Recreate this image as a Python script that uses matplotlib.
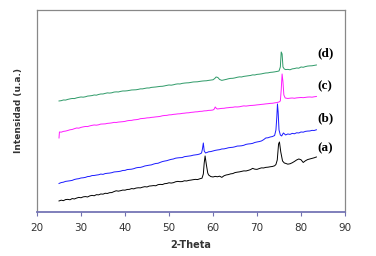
import matplotlib.pyplot as plt

# (2-theta, intensity), one list per pattern
a_pts = [(25, 11), (25.5, 11.8), (26, 11.3), (26.5, 12.4), (27, 12.6), (27.5, 12.2), (28, 13.4),
         (28.5, 13), (29, 13.9), (29.5, 14.6), (30, 14.2), (30.5, 15.1), (31, 15.4), (31.5, 15),
         (32, 16.1), (32.5, 16.6), (33, 16.2), (33.5, 17.3), (34, 17.1), (34.5, 18), (35, 17.8),
         (35.5, 18.7), (36, 18.5), (36.5, 19.3), (37, 19.4), (37.5, 20.4), (38, 21.2), (38.5, 20.8),
         (39, 21.3), (39.5, 21.9), (40, 21.8), (40.5, 22.5), (41, 22.6), (41.5, 23.4), (42, 23.1),
         (42.5, 23.9), (43, 24.2), (43.5, 24.1), (44, 24.8), (44.5, 25.3), (45, 25), (45.5, 25.9),
         (46, 26.1), (46.5, 26.4), (47, 26.2), (47.5, 27.3), (48, 27.6), (48.5, 27.4), (49, 28.3),
         (49.5, 28.5), (50, 29.2), (50.5, 28.9), (51, 29.3), (51.5, 30.2), (52, 30.6), (52.5, 30.3),
         (53, 30.4), (53.5, 31.2), (54, 31), (54.5, 31.6), (55, 31.9), (55.5, 32.3), (56, 32.6),
         (56.5, 32.4), (57, 33.2), (57.5, 33.8), (57.8, 38), (58.0, 49), (58.2, 56), (58.5, 47),
         (58.8, 39), (59, 37), (59.5, 35.4), (60, 35), (60.5, 35.6), (61, 35.2), (61.5, 35.8),
         (62, 34.6), (62.5, 36.2), (63, 37), (63.5, 37.4), (64, 38.1), (64.5, 38.4), (65, 39.4),
         (65.5, 39.8), (66, 40.1), (66.5, 40.6), (67, 41.1), (67.5, 41), (68, 41.6), (68.5, 42.3),
         (69, 43.6), (69.5, 42.8), (70, 42.6), (70.5, 43.4), (71, 44.1), (71.5, 44), (72, 44.6),
         (72.5, 44.8), (73, 45.2), (73.5, 45.5), (74, 46.2), (74.3, 47.5), (74.6, 52), (74.9, 68),
         (75.1, 70), (75.4, 60), (75.8, 51), (76.2, 49), (76.5, 48.6), (77, 47.8), (77.5, 48.2),
         (78, 49.2), (78.5, 50.5), (79, 52), (79.5, 53), (80, 52.2), (80.5, 49.5), (81, 51.2),
         (81.5, 52.4), (82, 53), (82.5, 53.6), (83, 54.2), (83.5, 55)]

b_pts = [(25, 28.5), (25.5, 29.4), (26, 29.8), (26.5, 30.6), (27, 30.9), (27.5, 31.2), (28, 31.6),
         (28.5, 32.5), (29, 33), (29.5, 33.3), (30, 34), (30.5, 34.2), (31, 34.6), (31.5, 35.4),
         (32, 35.6), (32.5, 36.4), (33, 36.5), (33.5, 36.9), (34, 37.2), (34.5, 37.9), (35, 37.6),
         (35.5, 38.4), (36, 38.7), (36.5, 38.9), (37, 39.3), (37.5, 40), (38, 40.2), (38.5, 40.4),
         (39, 40.8), (39.5, 41.5), (40, 41.6), (40.5, 42.4), (41, 42.6), (41.5, 42.8), (42, 43.3),
         (42.5, 44.1), (43, 44.5), (43.5, 44.6), (44, 45.2), (44.5, 46), (45, 46.4), (45.5, 46.8),
         (46, 47.1), (46.5, 47.9), (47, 48.5), (47.5, 48.7), (48, 49.6), (48.5, 50.4), (49, 50.9),
         (49.5, 51.3), (50, 52), (50.5, 52.6), (51, 53), (51.5, 53.8), (52, 54.1), (52.5, 54.3),
         (53, 54.4), (53.5, 55.3), (54, 55.6), (54.5, 55.9), (55, 56.2), (55.5, 56.8), (56, 57.1),
         (56.5, 57.4), (57, 58), (57.4, 59), (57.6, 63), (57.8, 69), (58.0, 61), (58.3, 59),
         (58.7, 59.6), (59, 60.2), (59.5, 60.4), (60, 61), (60.5, 61.6), (61, 62), (61.5, 62.3),
         (62, 63), (62.5, 63.1), (63, 63.6), (63.5, 64.2), (64, 64.5), (64.5, 64.7), (65, 65.2),
         (65.5, 65.9), (66, 66), (66.5, 66.2), (67, 66.7), (67.5, 67.6), (68, 68), (68.5, 68.2),
         (69, 68.6), (69.5, 69.5), (70, 70), (70.5, 70.4), (71, 71), (71.5, 72.3), (72, 74),
         (72.5, 74.2), (73, 75), (73.5, 75.4), (74, 76.5), (74.3, 82), (74.5, 95), (74.65, 108),
         (74.8, 100), (75.0, 82), (75.3, 77), (75.6, 76), (76, 79), (76.5, 77), (77, 78),
         (77.5, 77.6), (78, 78.6), (78.5, 78.2), (79, 79.2), (79.5, 79), (80, 80), (80.5, 79.8),
         (81, 80.6), (81.5, 80.9), (82, 81), (82.5, 81.6), (83, 81.5), (83.5, 82.2)]

c_pts = [(25, 74), (25.1, 80), (25.5, 79.8), (26, 80.6), (26.5, 80.9), (27, 81.5), (27.5, 82.2),
         (28, 82.5), (28.5, 83.3), (29, 84), (29.5, 83.8), (30, 84.6), (30.5, 85.1), (31, 85.5),
         (31.5, 85.4), (32, 86.1), (32.5, 86.6), (33, 87), (33.5, 86.8), (34, 87.2), (34.5, 87.9),
         (35, 88), (35.5, 88.1), (36, 88.6), (36.5, 88.8), (37, 89.1), (37.5, 89.6), (38, 89.5),
         (38.5, 89.9), (39, 90.1), (39.5, 90.3), (40, 90.6), (40.5, 91.2), (41, 91.5), (41.5, 91.6),
         (42, 92.1), (42.5, 92.3), (43, 92.6), (43.5, 93.3), (44, 93.5), (44.5, 93.7), (45, 94.1),
         (45.5, 94.2), (46, 94.6), (46.5, 94.8), (47, 95.1), (47.5, 95.3), (48, 95.6), (48.5, 96.2),
         (49, 96.5), (49.5, 96.6), (50, 97.1), (50.5, 97.2), (51, 97.6), (51.5, 97.8), (52, 98.1),
         (52.5, 98.2), (53, 98.6), (53.5, 98.8), (54, 99.1), (54.5, 99.2), (55, 99.6), (55.5, 99.8),
         (56, 100.1), (56.5, 100.2), (57, 100.6), (57.5, 100.7), (58, 101.1), (58.5, 101.2),
         (59, 101.6), (59.5, 101.7), (60, 102), (60.3, 103), (60.5, 105), (60.8, 103.4), (61, 103),
         (61.5, 103.3), (62, 103.6), (62.5, 103.7), (63, 104.1), (63.5, 104.3), (64, 104.6),
         (64.5, 104.7), (65, 105.1), (65.5, 105), (66, 105.2), (66.5, 105.7), (67, 106.1),
         (67.5, 105.9), (68, 106.2), (68.5, 106.5), (69, 106.6), (69.5, 106.8), (70, 107.1),
         (70.5, 107.3), (71, 107.6), (71.5, 107.8), (72, 108.1), (72.5, 108.3), (73, 108.6),
         (73.5, 108.7), (74, 109.1), (74.5, 109.4), (75, 110), (75.3, 111), (75.5, 122),
         (75.7, 138), (75.9, 130), (76.1, 117), (76.4, 114), (77, 113.5), (77.5, 113.8), (78, 114),
         (78.5, 113.7), (79, 114.1), (79.5, 114.3), (80, 114.5), (80.5, 114.3), (81, 114.6),
         (81.5, 114.9), (82, 115), (82.5, 114.8), (83, 115.2), (83.5, 115.5)]

d_pts = [(25, 111), (25.5, 111.3), (26, 112), (26.5, 111.9), (27, 112.6), (27.5, 113.1),
         (28, 113.5), (28.5, 113.4), (29, 114.1), (29.5, 114.6), (30, 115), (30.5, 114.8),
         (31, 115.2), (31.5, 115.9), (32, 116.1), (32.5, 116.4), (33, 117), (33.5, 116.8),
         (34, 117.5), (34.5, 118), (35, 118), (35.5, 118.6), (36, 119.1), (36.5, 118.9), (37, 119.2),
         (37.5, 119.9), (38, 120.1), (38.5, 120), (39, 120.6), (39.5, 121), (40, 121), (40.5, 121.2),
         (41, 121.6), (41.5, 122), (42, 122.1), (42.5, 122.2), (43, 122.6), (43.5, 123.1),
         (44, 123.1), (44.5, 123.6), (45, 124), (45.5, 124), (46, 124.6), (46.5, 124.8), (47, 125),
         (47.5, 125.3), (48, 125.6), (48.5, 125.7), (49, 126.1), (49.5, 126.6), (50, 127),
         (50.5, 126.8), (51, 127.2), (51.5, 127.8), (52, 128.1), (52.5, 128), (53, 128.6),
         (53.5, 128.9), (54, 129.1), (54.5, 129.2), (55, 129.6), (55.5, 130), (56, 130.1),
         (56.5, 130.2), (57, 130.6), (57.5, 130.9), (58, 131.1), (58.5, 131.2), (59, 131.6),
         (59.5, 131.9), (60, 132.2), (60.4, 133.5), (60.7, 135), (61.1, 134.5), (61.5, 132.5),
         (62, 131.6), (62.5, 132.1), (63, 132.6), (63.5, 133.2), (64, 133.6), (64.5, 133.7),
         (65, 134.1), (65.5, 134.7), (66, 135.1), (66.5, 135), (67, 135.6), (67.5, 135.9),
         (68, 136.2), (68.5, 136.5), (69, 137.1), (69.5, 137), (70, 137.6), (70.5, 137.8),
         (71, 138.1), (71.5, 138.6), (72, 139), (72.5, 139.1), (73, 139.6), (73.5, 139.8),
         (74, 140.1), (74.5, 140.5), (75, 141), (75.3, 145), (75.5, 160), (75.7, 158), (75.9, 145),
         (76.2, 143), (76.5, 142.4), (77, 142.6), (77.5, 142.2), (78, 143.1), (78.5, 143.4),
         (79, 144), (79.5, 143.8), (80, 145), (80.5, 144.7), (81, 145.4), (81.5, 145.9),
         (82, 146.1), (82.5, 146.2), (83, 146.6), (83.5, 147)]

labels = ['(a)', '(b)', '(c)', '(d)']
label_y = [64, 94, 126, 159]
colors = ['black', '#1a1aff', '#ff1aff', '#2e9a68']

fig = plt.figure(figsize=(3.76, 2.56), dpi=100)
ax = fig.add_axes([0.0984, 0.172, 0.8192, 0.789])

for pts, col in zip([a_pts, b_pts, c_pts, d_pts], colors):
    x, y = zip(*pts)
    ax.plot(x, y, color=col, lw=0.7)

for lab, yy in zip(labels, label_y):
    ax.text(85.5, yy, lab, ha='center', va='center', fontsize=9.5,
            fontweight='bold', family='Liberation Serif')

ax.set_xlim(20, 90)
ax.set_ylim(0, 202)
ax.set_xticks(range(20, 91, 10))
ax.set_yticks([])
ax.tick_params(axis='x', direction='out', length=3, width=0.8, color='#7070b0',
               labelsize=7.5, labelcolor='#333333', pad=5)
for s in ['top', 'right', 'left']:
    ax.spines[s].set_color('#888888')
    ax.spines[s].set_linewidth(0.9)
ax.spines['bottom'].set_color('#7575b5')
ax.spines['bottom'].set_linewidth(1.3)

ax.set_xlabel('2-Theta', fontsize=7, fontweight='bold', color='#333333', labelpad=5)
ax.set_ylabel('Intensidad (u.a.)', fontsize=6.5, fontweight='bold', color='#333333',
              labelpad=10)

fig.savefig('out.png', dpi=100)
